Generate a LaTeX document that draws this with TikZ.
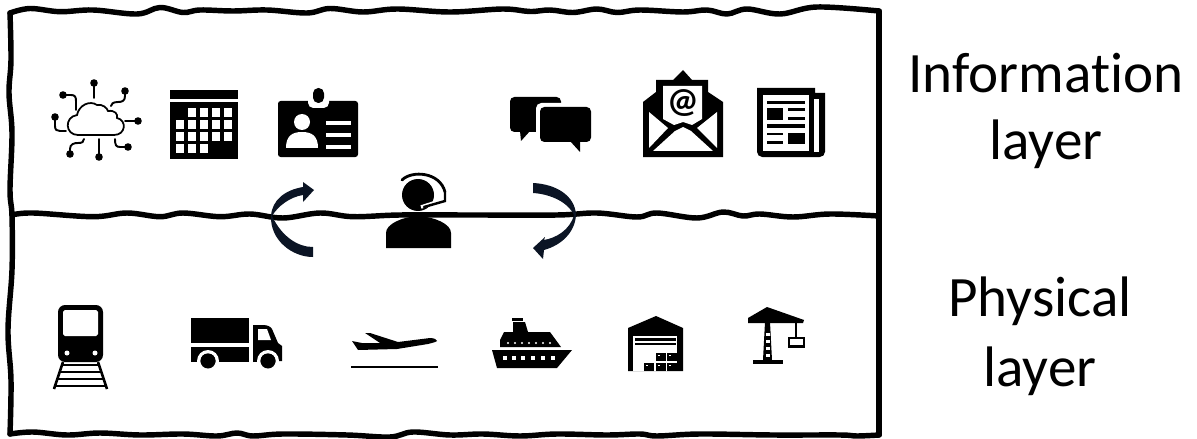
\documentclass[tikz,border=0pt]{standalone}
\usepackage{fontspec}
\setmainfont{Carlito}[Ligatures=NoCommon]
\definecolor{arrowink}{HTML}{0B1424}
\tikzset{
  wobble/.style={line width=3.1pt, line cap=round, line join=miter},
  thinline/.style={line width=1pt},
  wire/.style={line width=1.1pt, line cap=round},
  layertext/.style={anchor=base, font=\fontsize{32.5}{36}\selectfont},
  cutout/.style={fill=white, draw=none}
}
\begin{document}
\begin{tikzpicture}[x=0.02cm, y=-0.02cm]
  \useasboundingbox (0,0) rectangle (1197,439);

  % frame
  \draw[wobble] plot[smooth, tension=0.6] coordinates {(10,13) (30,8.5) (60,11.7) (93,10) (137,14) (160,7.5) (183,12.5) (200,10) (233,11) (267,10) (307,13) (330,8.5) (363,12) (397,9) (450,12) (503,9) (530,11.5) (550,10) (573,12.5) (597,9) (617,12.5) (640,10) (683,12) (707,10) (727,14) (747,9) (780,14) (817,7) (879,11)};
  \draw[wobble] plot[smooth, tension=0.6] coordinates {(10,13) (11,60) (9,93) (12,133) (10,190) (12,216) (12,270) (8,330) (11,380) (10,434)};
  \draw[wobble] (879,11) -- (879,435);
  \draw[wobble] plot[smooth, tension=0.6] coordinates {(10,434) (33,432) (67,435) (100,433) (140,435) (183,434) (217,436) (237,433) (253,436) (283,434) (347,435) (390,437) (413,432) (450,435) (483,434) (520,436) (557,434) (607,435) (640,434) (657,436) (700,434) (773,435) (840,435) (857,436) (879,435)};
  \draw[wobble] plot[smooth, tension=0.6] coordinates {(12,215) (33,213) (93,216.7) (127,213) (160,216.7) (183,213) (220,216.7) (250,214) (283,218) (320,213) (353,216.7) (400,215) (473,215) (557,215) (597,213) (637,217) (657,213) (697,218) (723,212) (743,216) (760,214) (793,217) (830,214) (879,216)};

  % cloud
  \draw[thinline] (78,135) .. controls (65,135) and (64,117) .. (77,115) .. controls (79,105) and (90,100) .. (97,105) .. controls (103,104) and (107,108) .. (108,111) .. controls (115,110) and (118,114) .. (117,118) .. controls (127,120) and (126,135) .. (114,135) -- cycle;
  \draw[wire] (94,83) -- (94,98);
  \draw[wire] (63,95) -- (71,95) .. controls (75,95) and (76,97) .. (76,101) -- (76,110);
  \draw[wire] (125,91) -- (125,96) .. controls (125,101) and (122,102) .. (118,102) .. controls (113,102) and (111,104) .. (111,106);
  \draw[wire] (55,117) -- (55,126) .. controls (55,130) and (57,131) .. (60,131) -- (66,131);
  \draw[wire] (138,121) -- (125,121);
  \draw[wire] (70,154) -- (70,149) .. controls (70,144) and (74,143) .. (78,143) .. controls (82,143) and (84,142) .. (84,139);
  \draw[wire] (99,157) -- (99,139);
  \draw[wire] (128,147) -- (120,147) .. controls (116,147) and (115,145) .. (115,139);
  \foreach \x/\y in {94/83, 63/95, 125/91, 55/117, 138/121, 70/154, 99/157, 128/147}
    \fill (\x,\y) circle[radius=3.8];

  % calendar
  \fill (170,90) rectangle (238,99);
  \fill (170,102) rectangle (238,159);
  \foreach \x in {188,200,212,224} \fill[cutout] (\x,108) rectangle +(8,9);
  \foreach \x in {176,188,200,212,224} {
    \fill[cutout] (\x,120) rectangle +(8,9);
    \fill[cutout] (\x,132) rectangle +(8,9);
  }
  \foreach \x in {176,188,200} \fill[cutout] (\x,144) rectangle +(8,9);

  % badge
  \fill[rounded corners=1.5pt] (278,101) rectangle (358,157);
  \fill[cutout, rounded corners=3pt] (308,92) rectangle (329,108);
  \fill[rounded corners=3pt] (313,88) rectangle (324,103);
  \fill[cutout] (302,122) circle[radius=8];
  \fill[cutout] (286,148) .. controls (286,136) and (292,132) .. (302,132) .. controls (312,132) and (318,136) .. (318,148) -- cycle;
  \foreach \y in {121,133,145} \fill[cutout] (326,\y) rectangle +(25,4);

  % speech bubbles
  \fill[rounded corners=2.5pt] (510,97) rectangle (561,132);
  \fill (520,131) -- (521,141) -- (530,131) -- cycle;
  \fill[cutout, rounded corners=3pt] (536,103) rectangle (595,146);
  \fill[rounded corners=2.5pt] (540,107) rectangle (591,142);
  \fill (570,141) -- (580,152) -- (580,141) -- cycle;

  % mail
  \fill (643,102) -- (656,92) -- (656,80) -- (673,80) -- (683,70) -- (692,80) -- (708,80) -- (708,92) -- (723,102) -- (723,157) -- (643,157) -- cycle;
  \fill[cutout] (663,86) -- (702,86) -- (702,119) -- (692,125) -- (683,122) -- (674,125) -- (663,119) -- cycle;
  \fill[cutout] (649,112) -- (668,128) -- (649,148) -- cycle;
  \fill[cutout] (717,112) -- (697,128) -- (717,148) -- cycle;
  \fill[cutout] (653,151) -- (675,131) -- (683,127) -- (691,131) -- (713,151) -- cycle;
  \node[font=\fontsize{20}{20}\selectfont\bfseries, inner sep=0pt] (mailsign) at (683,103) {@};

  % newspaper
  \fill (757,88) -- (815,88) -- (815,93) -- (825,93) [rounded corners=3pt] -- (825,157) -- (757,157) [sharp corners] -- cycle;
  \fill[cutout] (763,95) rectangle (809,151);
  \fill[cutout] (814,99) rectangle (819,152);
  \fill (767,101) rectangle (805,104);
  \fill (767,108) rectangle (783,120);
  \fill (788,108) rectangle (805,111);
  \fill (788,117) rectangle (805,120);
  \fill (767,124) rectangle (805,128);
  \fill (788,133) rectangle (805,144);
  \fill (767,133) rectangle (783,135);
  \fill (767,141) rectangle (783,144);

  % agent
  \fill (386,248) -- (386,233) .. controls (386,224) and (402,217) .. (418,216) .. controls (435,217) and (451,224) .. (451,233) -- (451,248) -- cycle;
  \fill (418,195) circle[radius=16];
  \draw[line width=1.6pt, line cap=round] (402,180) .. controls (412,170) and (440,172) .. (445,192);
  \draw[cutout, draw=white, line width=2pt] (446,199) -- (421,207);
  \draw[line width=1.4pt, line cap=round] (445,192) -- (445,201) -- (424,207);

  % exchange arrows
  \fill[arrowink] (313,247) .. controls (298,247) and (282,237) .. (272,216) .. controls (278,206) and (290,197) .. (303,195) -- (303,202) -- (314,190) -- (303,182) -- (303,187) .. controls (285,190) and (272,200) .. (271,216) .. controls (270,240) and (292,257) .. (313,257) -- cycle;
  \fill[arrowink] (533,183) .. controls (555,184) and (575,195) .. (576,215) .. controls (575,232) and (562,245) .. (544,250) -- (543,259) -- (533,248) -- (545,237) -- (544,240) .. controls (556,238) and (570,230) .. (574,215) .. controls (568,202) and (550,194) .. (533,193) -- cycle;

  % train
  \fill[rounded corners=4pt] (58,305) rectangle (103,362);
  \fill[cutout, rounded corners=1pt] (63,310) rectangle (98,336);
  \fill[cutout] (67,353) circle[radius=2.5];
  \fill[cutout] (95,353) circle[radius=2.5];
  \draw[line width=1.5pt] (63,362) -- (54,389);
  \draw[line width=1.5pt] (98,362) -- (107,389);
  \foreach \y/\a/\b in {365/62/99, 372/60/102, 379/58/104, 386/55/106}
    \draw[line width=1.2pt] (\a,\y) -- (\b,\y);

  % truck
  \fill (191,318) rectangle (249,343);
  \fill (191,347) rectangle (249,362);
  \fill (253,325) -- (263,325) .. controls (268,325) and (271,327) .. (272,329) -- (278,343) -- (282,346) -- (282,361) -- (253,362) -- cycle;
  \fill[cutout] (258,329) -- (267,329) -- (271,340) -- (258,340) -- cycle;
  \foreach \x in {208,268} {
    \fill[cutout] (\x,361) circle[radius=11];
    \fill (\x,361) circle[radius=7.5];
  }
  \fill[cutout] (191,363) rectangle (282,373);
  \foreach \x in {208,268} \fill (\x,361) circle[radius=7.5];

  % plane
  \fill (352,341) -- (362,343) -- (380,343) -- (365,333) -- (370,333) -- (398,342) -- (430,338) .. controls (435,338) and (437,340) .. (437,341) .. controls (436,342) and (432,343) .. (428,344) -- (397,349) -- (358,350) -- cycle;
  \draw[line width=1.4pt] (351,367) -- (438,367);

  % ship
  \fill (492,350) -- (572,350) -- (557,368) -- (497,368) -- cycle;
  \fill (500,347) -- (500,340) -- (504,332) -- (513,332) -- (513,322) -- (525,322) -- (528,332) -- (550,332) -- (561,347) -- cycle;
  \fill (512,318) rectangle (523,320.5);
  \foreach \x in {505,514,523,533,543,553} \fill[cutout] (\x-2,356) rectangle +(4,4);
  \foreach \x in {508,515,522,529,536,543,550} \fill[cutout] (\x,343) circle[radius=1.2];

  % warehouse
  \fill (628,328) -- (656,316) -- (683,328) -- (683,371) -- (628,371) -- cycle;
  \fill[cutout] (633,336) rectangle (677,371);
  \fill (635,338) rectangle (676,340.5);
  \fill (635,342.5) rectangle (676,345);
  \foreach \x/\y in {644/363, 656/363, 667/363, 656/353, 667/353} {
    \fill (\x,\y) rectangle +(9.5,8);
    \fill[cutout] (\x+2,\y+1.5) rectangle +(2,1.5);
  }

  % crane
  \fill (748,318) -- (767,307) -- (804,320) -- (803,323) -- (748,323) -- cycle;
  \fill (765,322) -- (770,322) -- (772,360) -- (763,360) -- cycle;
  \fill (753,360) rectangle (783,363.5);
  \foreach \y in {333,340,347,354} \fill[cutout] (765.5,\y) rectangle +(4,3);
  \draw[line width=1pt] (796,322) -- (796,338);
  \draw[line width=1.2pt] (789,338) rectangle (804,346.5);

  \node[layertext] (infotop) at (1046,92) {Information};
  \node[layertext] (infobot) at (1046,159) {layer};
  \node[layertext] (phystop) at (1040,316) {Physical};
  \node[layertext] (physbot) at (1040,386) {layer};
\end{tikzpicture}
\end{document}
